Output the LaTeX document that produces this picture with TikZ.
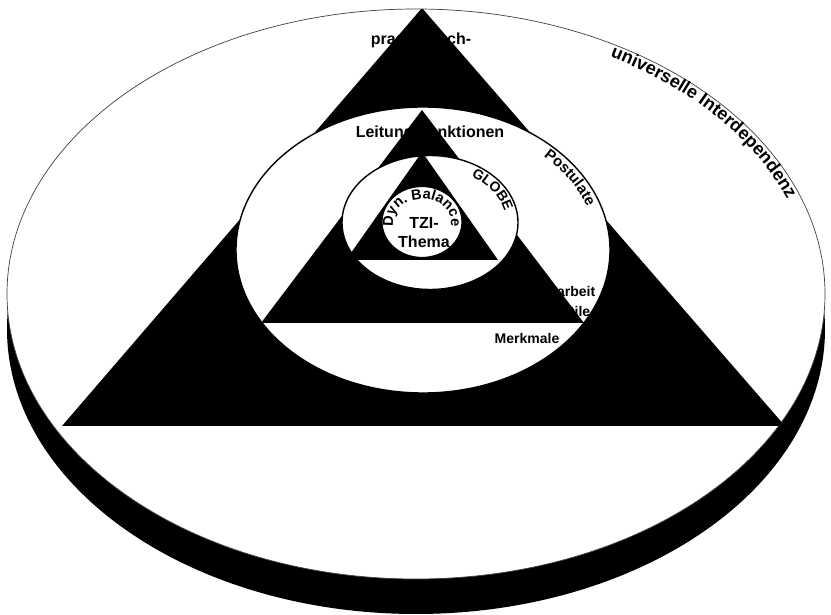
\documentclass[tikz,border=0pt]{standalone}
\usepackage{fontspec}
\setmainfont{Liberation Sans}
\usetikzlibrary{calc, decorations.text}

\begin{document}
\begin{tikzpicture}[x=1pt, y=1pt,
    hole/.style={fill=white, draw=black, line width=1.4pt},
    lbl/.style={font=\bfseries\fontsize{15}{19}\selectfont, align=center, inner sep=0pt},
    curved/.style={decorate, decoration={text along path, text align=center, text={#1}}}
]
    \useasboundingbox (0,0) rectangle (831,614);

    % Centres
    \coordinate (outer) at (416,320);
    \coordinate (middle) at (423,364);
    \coordinate (inner) at (430,391.5);
    \coordinate (core) at (422,392);

    % Shadow and outer disc
    \fill[black] ($(outer)+(0,-35)$) ellipse [x radius=409, y radius=285];
    \filldraw[fill=white, draw=black!75, line width=0.7pt] (outer) ellipse [x radius=409, y radius=285];

    % Big triangle
    \begin{scope}
        \clip (outer) ellipse [x radius=409, y radius=285];
        \fill (422,606) -- (785,188) -- (62,188) -- cycle;
    \end{scope}

    % Middle layer
    \filldraw[hole] (middle) ellipse [x radius=187, y radius=143];
    \begin{scope}
        \clip (middle) ellipse [x radius=187, y radius=143];
        \fill (422,504) -- (584,291) -- (261,291) -- cycle;
    \end{scope}

    % Inner layer
    \filldraw[hole] (inner) ellipse [x radius=88, y radius=67];
    \begin{scope}
        \clip (inner) ellipse [x radius=88, y radius=67];
        \fill (422,462) -- (498,354) -- (346,354) -- cycle;
    \end{scope}

    % Core
    \filldraw[hole, line width=1.2pt] (core) ellipse [x radius=40, y radius=35.5];

    % Labels
    \node[lbl, font=\bfseries\fontsize{16}{23}\selectfont] (axiome) at (421,562) {pragmatisch-\\politisches};
    \node[lbl, font=\bfseries\fontsize{16}{19}\selectfont] (leitung) at (430,481) {Leitungsfunktionen};
    \node[lbl, font=\bfseries\fontsize{14}{20}\selectfont] (gruppe) at (547,311) {Gruppenarbeit\\Leitungsstile};
    \node[lbl, font=\bfseries\fontsize{14}{17}\selectfont] (merkmale) at (527,276) {Merkmale};
    \node[lbl, font=\bfseries\fontsize{16}{19}\selectfont] (thema) at (424,381) {TZI-\\Thema};

    % Curved labels
    \path[curved={|\bfseries\fontsize{18}{21}\selectfont|universelle Interdependenz}]
        ($(outer)+(64:396 and 272)$) arc[start angle=64, end angle=16, x radius=396, y radius=272];
    \path[curved={|\bfseries\fontsize{15}{18}\selectfont|Postulate}]
        ($(middle)+(54:174 and 130)$) arc[start angle=54, end angle=10, x radius=174, y radius=130];
    \path[curved={|\bfseries\fontsize{14}{16}\selectfont|GLOBE}]
        ($(inner)+(66:76 and 55)$) arc[start angle=66, end angle=0, x radius=76, y radius=55];
    \path[curved={|\bfseries\fontsize{14.5}{17}\selectfont|Dyn. Balance}]
        ($(core)+(210:29 and 23)$) arc[start angle=210, end angle=-30, x radius=29, y radius=23];

\end{tikzpicture}
\end{document}
